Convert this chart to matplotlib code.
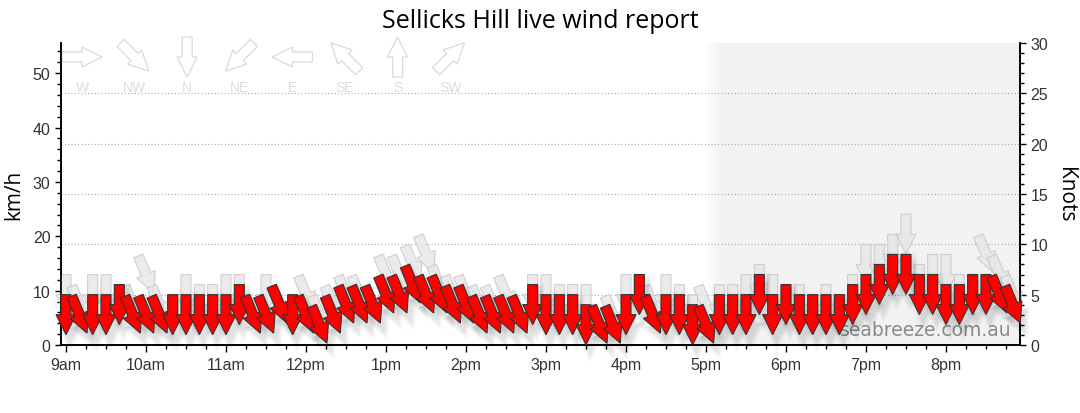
import matplotlib
matplotlib.use("Agg")
import matplotlib.pyplot as plt
import matplotlib.transforms as mtransforms
from matplotlib.patches import Polygon
from matplotlib.colors import LinearSegmentedColormap
from matplotlib.ticker import MultipleLocator, FuncFormatter
import numpy as np
import pandas as pd

# readings every 10 minutes, 9:00 .. 20:50
times = pd.date_range("2024-01-01 09:00", "2024-01-01 20:50", freq="10min")
hours = np.array(times.hour + times.minute / 60.0)

# average wind (knots) and the direction it comes from
wind_kts = [5, 5, 5, 5, 6, 5, 5, 5, 5, 5, 5, 5,
            5, 6, 5, 5, 6, 5, 5, 4, 5, 6, 6, 6,
            7, 7, 8, 7, 7, 6, 6, 5, 5, 5, 5, 6,
            5, 5, 5, 4, 4, 4, 5, 7, 5, 5, 5, 4,
            4, 5, 5, 5, 7, 5, 6, 5, 5, 5, 5, 6,
            7, 8, 9, 9, 7, 7, 6, 6, 7, 7, 7, 6]
wind_dir = ["N", "NNW", "N", "N", "N", "NNW", "NNW", "NNW", "N", "N", "N", "N",
            "N", "N", "NNW", "NNW", "NNW", "N", "NNW", "NNW", "NNW", "NNW", "NNW", "NNW",
            "NNW", "NNW", "NNW", "NNW", "NNW", "NNW", "NNW", "NNW", "NNW", "NNW", "NNW", "N",
            "N", "N", "N", "N", "NNW", "NNW", "N", "N", "NNW", "N", "N", "N",
            "NNW", "N", "N", "N", "N", "N", "N", "N", "N", "N", "N", "N",
            "N", "N", "N", "N", "N", "N", "N", "N", "N", "N", "NNW", "NNW"]

# gusts (knots) and their direction
gust_kts = [7, 6, 7, 7, 6, 6, 9, 6, 5, 7, 6, 6,
            7, 7, 5, 7, 6, 5, 7, 5, 6, 7, 7, 6,
            9, 9, 10, 11, 8, 7, 7, 6, 6, 7, 5, 7,
            7, 6, 6, 6, 4, 5, 7, 7, 6, 7, 6, 5,
            6, 6, 6, 7, 8, 7, 6, 6, 5, 6, 5, 7,
            10, 10, 11, 13, 8, 9, 9, 7, 7, 11, 9, 7]
gust_dir = ["N", "NNW", "N", "N", "N", "NNW", "NNW", "NNW", "N", "N", "N", "N",
            "N", "N", "NNW", "N", "NNW", "N", "NNW", "NNW", "NNW", "NNW", "NNW", "NNW",
            "NNW", "NNW", "NNW", "NNW", "NNW", "NNW", "NNW", "NNW", "NNW", "NNW", "NNW", "N",
            "N", "N", "N", "N", "NNW", "NNW", "N", "N", "NNW", "N", "N", "N",
            "NNW", "N", "N", "N", "N", "N", "N", "N", "N", "N", "N", "N",
            "N", "N", "N", "N", "N", "N", "N", "N", "N", "NNW", "NNW", "NNW"]

legend_dirs = ["W", "NW", "N", "NE", "E", "SE", "S", "SW"]
compass = {"N": 0, "NNE": 22.5, "NE": 45, "E": 90, "SE": 135, "S": 180,
           "SW": 225, "W": 270, "NW": 315, "NNW": 337.5}

KMH_PER_KT = 1.852
night_start = 17.1

# arrow outline in pixels, pointing up, centred on the origin
ARROW = np.array([[-5, -20], [5, -20], [5, 0], [10, 0], [0, 20], [-10, 0], [-5, 0]])


def arrow_transform(axis, x, y, frm, dx=0, dy=-20, scale=1.0):
    bearing = (compass[frm] + 180) % 360
    return (mtransforms.Affine2D().scale(scale).rotate_deg(-bearing).translate(dx, dy)
            + mtransforms.ScaledTranslation(x, y, axis.transData))


plt.rcParams["font.family"] = ["Liberation Sans", "DejaVu Sans"]
fig = plt.figure(figsize=(10.8, 4.14), dpi=100)
ax = fig.add_axes([61 / 1080, 68 / 414, 959 / 1080, 302 / 414])
ax2 = ax.twinx()

xmin, xmax = 8.9375, 20.925

# evening shading with a soft edge
fade = LinearSegmentedColormap.from_list("fade", ["#ffffff", "#f2f2f2"])
ax.imshow(np.linspace(0, 1, 60).reshape(1, -1), cmap=fade, aspect="auto",
          extent=[night_start - 0.12, night_start + 0.12, 0, 30 * KMH_PER_KT], zorder=0)
ax.axvspan(night_start + 0.12, xmax, color="#f2f2f2", lw=0, zorder=0)
ax.set_xlim(xmin, xmax)
ax.set_ylim(0, 30 * KMH_PER_KT)
ax2.set_ylim(0, 30)

# dotted grid on the knots axis
ax2.yaxis.set_major_locator(MultipleLocator(5))
ax2.yaxis.set_minor_locator(MultipleLocator(1))
for k in range(5, 30, 5):
    ax2.axhline(k, color="#aaaaaa", lw=0.8, ls=(0, (1, 2)), zorder=1)

# gust arrows
for h, g, d in zip(hours, gust_kts, gust_dir):
    ax2.add_patch(Polygon(ARROW, closed=True, transform=arrow_transform(ax2, h, g, d),
                          facecolor="#e6e6e6", edgecolor="#c6c6c6", lw=0.8,
                          alpha=0.8, zorder=2, clip_on=False))

# soft shadow under the wind arrows
for h, w, d in zip(hours, wind_kts, wind_dir):
    for s in (1.0, 1.1, 1.2, 1.3, 1.4, 1.5):
        ax2.add_patch(Polygon(ARROW, closed=True,
                              transform=arrow_transform(ax2, h, w, d, dx=4, dy=-28, scale=s),
                              facecolor="#000000", edgecolor="none", alpha=0.02,
                              zorder=3, clip_on=False))

# average wind arrows
for h, w, d in zip(hours, wind_kts, wind_dir):
    ax2.add_patch(Polygon(ARROW, closed=True, transform=arrow_transform(ax2, h, w, d),
                          facecolor="#ff0000", edgecolor="#333333", lw=0.8,
                          zorder=4, clip_on=False))

# direction key
for k, d in enumerate(legend_dirs):
    bearing = (compass[d] + 180) % 360
    tr = (mtransforms.Affine2D().rotate_deg(-bearing).translate(21 + 52.6 * k, -14)
          + mtransforms.ScaledTranslation(0, 1, ax.transAxes))
    ax.add_patch(Polygon(ARROW, closed=True, transform=tr, facecolor="white",
                         edgecolor="#dadada", lw=0.9, zorder=5, clip_on=False))
    ax.annotate(d, xy=(0, 1), xycoords="axes fraction", xytext=(21 + 52.6 * k, -44),
                textcoords="offset pixels", ha="center", va="center",
                color="#dddddd", fontsize=10)

ax.text(0.902, 0.05, "seabreeze.com.au", transform=ax.transAxes, ha="center",
        va="center", fontsize=13.5, color="#8a8a8a", family="DejaVu Sans", zorder=6)

# axes, ticks and labels
ax.xaxis.set_major_locator(MultipleLocator(1))
ax.xaxis.set_minor_locator(MultipleLocator(0.25))


def hour_label(h, pos):
    h = int(round(h))
    suffix = "am" if h < 12 else "pm"
    return f"{(h - 1) % 12 + 1}{suffix}"


ax.xaxis.set_major_formatter(FuncFormatter(hour_label))
ax.yaxis.set_major_locator(MultipleLocator(10))
ax.yaxis.set_minor_locator(MultipleLocator(2))

for a in (ax, ax2):
    a.spines["top"].set_visible(False)
    for sp in a.spines.values():
        sp.set_linewidth(1.2)
    a.tick_params(which="major", length=4, width=1, labelsize=11.5, labelcolor="#333333")
    a.tick_params(which="minor", length=3, width=1)
ax.tick_params(axis="x", which="major", length=5)
ax.tick_params(axis="x", which="minor", length=3)

ax.set_ylabel("km/h", fontsize=15, family="Open Sans", labelpad=6)
ax2.set_ylabel("Knots", fontsize=15, family="Open Sans", rotation=270, labelpad=20)
fig.text(0.5, 1 - 21 / 414, "Sellicks Hill live wind report", ha="center", va="center",
         fontsize=18, family="Open Sans")

fig.savefig("out.png", dpi=100, facecolor="white")
